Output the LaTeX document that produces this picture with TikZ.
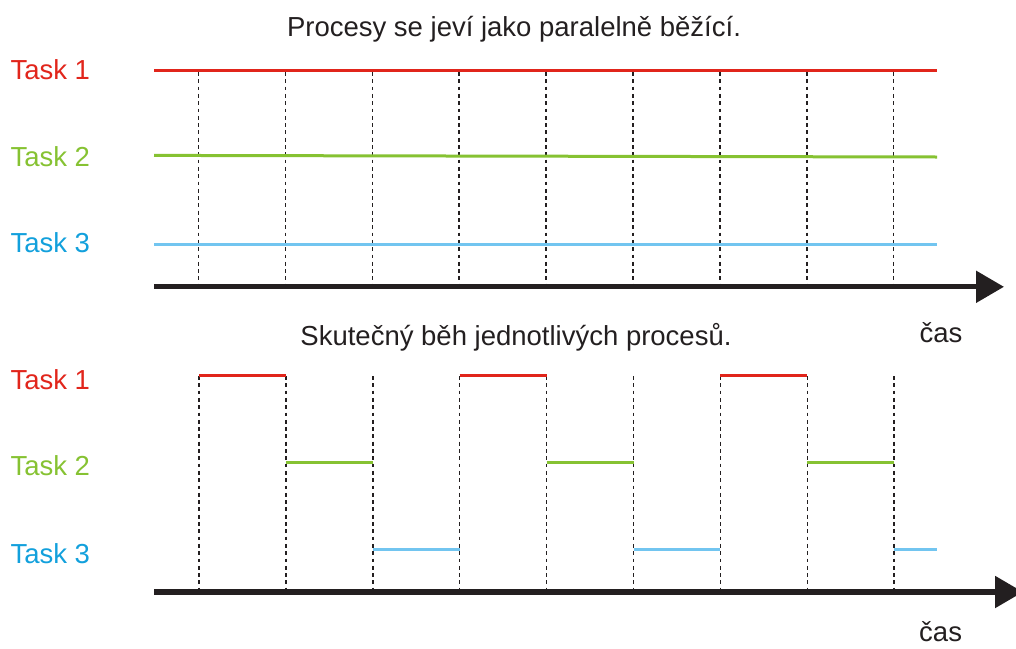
\documentclass[tikz,border=0pt]{standalone}
\usepackage{fontspec}
\setmainfont{Liberation Sans}
\usetikzlibrary{arrows.meta}

\definecolor{taskred}{HTML}{E1251B}
\definecolor{taskgreen}{HTML}{86C232}
\definecolor{taskbluetext}{HTML}{12A0DC}
\definecolor{tasklineblue}{HTML}{72C5F0}
\definecolor{inkblack}{HTML}{231F20}

\tikzset{
  lbl/.style={inner sep=0pt, anchor=base west, font=\fontsize{27.5}{33}\selectfont},
  ttl/.style={inner sep=0pt, anchor=base, text=inkblack, font=\fontsize{27.5}{33}\selectfont},
  run/.style={line width=3pt},
  slot/.style={line width=1.5pt, inkblack, dash pattern=on 3.8pt off 3.5pt},
  timeaxis/.style={line width=5.3pt, inkblack, -{Triangle[length=28pt,width=31pt]}},
}

\begin{document}
\begin{tikzpicture}[x=1pt, y=-1pt]
  \useasboundingbox (0,0) rectangle (1016,648);
  \clip (0,0) rectangle (1016,648);

  % ---------- upper panel: apparent parallel run ----------
  \node[ttl] (t1) at (514,36.7) {Procesy se jeví jako paralelně běžící.};
  \node[lbl, text=taskred]      (a1) at (10.3,79)    {Task 1};
  \node[lbl, text=taskgreen]    (a2) at (10.3,166)   {Task 2};
  \node[lbl, text=taskbluetext] (a3) at (10.3,252.7) {Task 3};

  \foreach \i in {0,...,8}{
    \draw[slot] (198.5+86.9*\i,72) -- (198.5+86.9*\i,285);
  }
  \draw[run, taskred]      (154,70.7)  -- (937,70.7);
  \draw[run, taskgreen]    (154,155.4) -- (937,157);
  \draw[run, tasklineblue] (154,244)   -- (937,244);

  \coordinate (ua) at (154,286.8);
  \coordinate (ub) at (1004,286.8);
  \draw[timeaxis] (ua) -- (ub);
  \node[lbl, text=inkblack] (c1) at (919.3,342) {čas};

  % ---------- lower panel: actual time slicing ----------
  \node[ttl] (t2) at (516,345.7) {Skutečný běh jednotlivých procesů.};
  \node[lbl, text=taskred]      (b1) at (10.3,389.3) {Task 1};
  \node[lbl, text=taskgreen]    (b2) at (10.3,475.7) {Task 2};
  \node[lbl, text=taskbluetext] (b3) at (10.3,563)   {Task 3};

  \foreach \i in {0,...,8}{
    \draw[slot] (199+86.9*\i,376) -- (199+86.9*\i,590);
  }
  % time slices, one task per slot
  \foreach \i in {0,3,6}{
    \draw[run, taskred] (199+86.9*\i,375) -- (199+86.9*\i+86.9,375);
  }
  \foreach \i in {1,4,7}{
    \draw[run, taskgreen] (199+86.9*\i,462) -- (199+86.9*\i+86.9,462);
  }
  \foreach \i in {2,5}{
    \draw[run, tasklineblue] (199+86.9*\i,549) -- (199+86.9*\i+86.9,549);
  }
  \draw[run, tasklineblue] (894.2,549) -- (937,549);

  \coordinate (la) at (154,592);
  \coordinate (lb) at (1023,592);
  \draw[timeaxis] (la) -- (lb);
  \node[lbl, text=inkblack] (c2) at (919,641) {čas};
\end{tikzpicture}
\end{document}
